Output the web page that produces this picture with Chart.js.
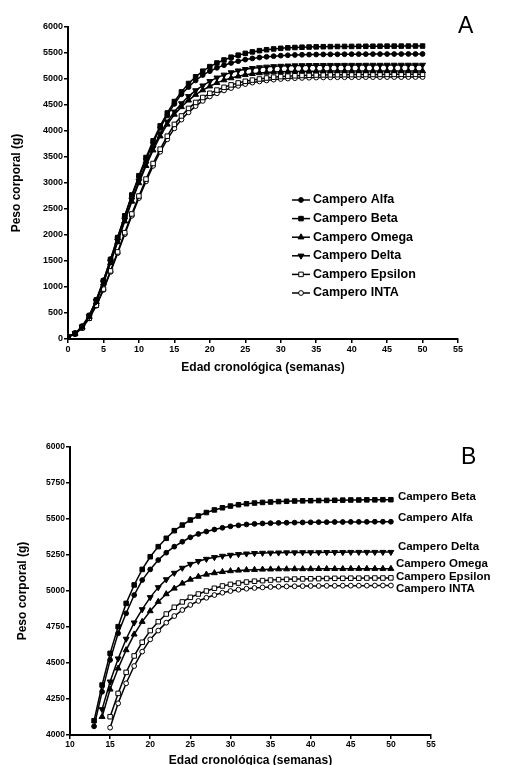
<!DOCTYPE html>
<html>
<head>
<meta charset="utf-8">
<script src="https://cdn.jsdelivr.net/npm/chart.js@4.4.0/dist/chart.umd.min.js"></script>
<style>
  html, body { margin: 0; padding: 0; background: #fff; overflow: hidden; }
  body { width: 509px; height: 765px; position: relative; font-family: "Liberation Sans", Arial, sans-serif; }
  .wrap { position: absolute; left: 0; width: 509px; }
  #wrapA { top: 0; height: 376px; }
  #wrapB { top: 380px; height: 388px; }
  .panel { position: absolute; font-size: 23px; color: #000; line-height: 1; }
</style>
</head>
<body>
<div class="wrap" id="wrapA"><canvas id="chartA" width="509" height="376"></canvas></div>
<div class="wrap" id="wrapB"><canvas id="chartB" width="509" height="388"></canvas></div>
<div class="panel" style="left:458px;top:14px">A</div>
<div class="panel" style="left:461px;top:445px">B</div>
<script>
// semanas
const weeks = [0,1,2,3,4,5,6,7,8,9,10,11,12,13,14,15,16,17,18,19,20,21,22,23,24,25,
  26,27,28,29,30,31,32,33,34,35,36,37,38,39,40,41,42,43,44,45,46,47,48,49,50];

// peso corporal (g) por semana
const alfa = [40,110,245,455,755,1130,1535,1950,2360,2750,3110,3450,3770,
  4060,4300,4521,4706,4845,4972,5076,5150,5215,5266,5308,5342,5373,
  5396,5413,5427,5439,5449,5456,5462,5466,5469,5471,5473,5474,5475,
  5476,5477,5478,5478,5479,5479,5480,5480,5480,5481,5481,5481];
const beta = [40,110,240,450,750,1120,1530,1950,2370,2770,3140,3490,3810,
  4099,4347,4567,4752,4914,5042,5150,5238,5308,5366,5419,5458,5493,
  5521,5545,5563,5578,5590,5599,5606,5611,5615,5618,5621,5623,5625,
  5626,5627,5628,5629,5630,5631,5632,5632,5633,5633,5634,5634];
const omega = [40,105,230,430,715,1070,1465,1865,2265,2645,3000,3330,3630,
  3900,4127,4317,4463,4590,4699,4787,4861,4926,4979,5018,5053,5080,
  5100,5115,5125,5133,5139,5143,5146,5148,5150,5151,5152,5152,5153,
  5153,5153,5154,5154,5154,5154,5155,5155,5155,5155,5155,5155];
const delta = [40,106,232,435,725,1085,1485,1890,2295,2680,3035,3370,3675,
  3950,4178,4370,4530,4667,4780,4872,4956,5025,5080,5125,5160,5187,
  5207,5222,5234,5243,5250,5255,5259,5262,5264,5265,5266,5267,5267,
  5268,5268,5268,5269,5269,5269,5270,5270,5270,5270,5270,5270];
const epsilon = [38,100,215,400,650,960,1310,1675,2045,2405,2750,3075,3375,
  3650,3900,4127,4289,4435,4549,4644,4725,4787,4840,4887,4924,4956,
  4979,5000,5019,5035,5046,5055,5062,5068,5072,5076,5079,5081,5083,
  5084,5085,5086,5087,5088,5088,5089,5089,5090,5090,5090,5091];
const inta = [38,98,212,395,640,945,1290,1650,2015,2370,2710,3030,3330,
  3600,3840,4051,4220,4359,4479,4579,4664,4725,4780,4826,4868,4903,
  4931,4953,4972,4988,5000,5009,5016,5021,5025,5028,5030,5032,5033,
  5034,5035,5035,5036,5036,5037,5037,5037,5037,5038,5038,5038];

const names = ['Campero Alfa','Campero Beta','Campero Omega','Campero Delta','Campero Epsilon','Campero INTA'];
const values = [alfa, beta, omega, delta, epsilon, inta];

const yTicksA = [0, 6000, 500];
const yTicksB = [4000, 6000, 250];

// estilo de cada serie (marcadores tipo Prism)
const styles = [
  { pointStyle: 'circle', fill: '#000', r: 2.4, rot: 0 },
  { pointStyle: 'rect', fill: '#000', r: 3.2, rot: 0 },
  { pointStyle: 'triangle', fill: '#000', r: 3.4, rot: 0 },
  { pointStyle: 'triangle', fill: '#000', r: 3.4, rot: 180 },
  { pointStyle: 'rect', fill: '#fff', r: 3.2, rot: 0 },
  { pointStyle: 'circle', fill: '#fff', r: 2.4, rot: 0 }
];

function makeDatasets(minY) {
  return values.map((arr, i) => ({
    label: names[i],
    data: arr.map((v, k) => ({ x: weeks[k], y: v >= minY ? v : null })),
    borderColor: '#000',
    borderWidth: 1.5,
    pointStyle: styles[i].pointStyle,
    pointRotation: styles[i].rot,
    pointRadius: styles[i].r,
    pointBackgroundColor: styles[i].fill,
    pointBorderColor: '#000',
    pointBorderWidth: 1,
    tension: 0,
    spanGaps: false
  }));
}

const FONT = '"Liberation Sans", Arial, sans-serif';

function axisOpts(min, max, step, tickSize, title, titlePad, fitSize, horizontal) {
  return {
    type: 'linear',
    min: min, max: max,
    border: { display: true, color: '#000', width: 2 },
    grid: { display: true, drawOnChartArea: false, drawTicks: true, tickLength: 4, color: '#000', lineWidth: 1.5 },
    ticks: {
      stepSize: step, color: '#000', padding: 1,
      font: { family: FONT, size: tickSize, weight: 'bold' },
      maxRotation: 0, autoSkip: false,
      callback: v => String(v)
    },
    title: {
      display: true, text: title, color: '#000', padding: titlePad,
      font: { family: FONT, size: 12, weight: 'bold' }
    },
    afterFit: s => { if (horizontal) s.height = fitSize; else s.width = fitSize; }
  };
}

const legendA = {
  id: 'legendA',
  afterDatasetsDraw(chart, args, opts) {
    if (!opts.show) return;
    const ctx = chart.ctx;
    ctx.save();
    chart.data.datasets.forEach((ds, i) => {
      const y = opts.y + i * opts.row;
      ctx.strokeStyle = '#000';
      ctx.lineWidth = 1.5;
      ctx.beginPath();
      ctx.moveTo(opts.x, y);
      ctx.lineTo(opts.x + 18, y);
      ctx.stroke();
      ctx.fillStyle = ds.pointBackgroundColor;
      ctx.lineWidth = 1;
      Chart.helpers.drawPoint(ctx, { pointStyle: ds.pointStyle, rotation: ds.pointRotation, radius: ds.pointRadius, borderWidth: 1 }, opts.x + 9, y);
      ctx.fillStyle = '#000';
      ctx.font = 'bold 12.5px ' + FONT;
      ctx.textBaseline = 'middle';
      ctx.textAlign = 'left';
      ctx.fillText(ds.label, opts.x + 21, y);
    });
    ctx.restore();
  }
};

const endLabels = {
  id: 'endLabels',
  afterDatasetsDraw(chart, args, opts) {
    if (!opts.show) return;
    const ctx = chart.ctx;
    ctx.save();
    ctx.fillStyle = '#000';
    ctx.font = 'bold 11.5px ' + FONT;
    ctx.textBaseline = 'middle';
    ctx.textAlign = 'left';
    chart.data.datasets.forEach((ds, i) => {
      const pts = chart.getDatasetMeta(i).data;
      const last = pts[pts.length - 1];
      ctx.fillText(ds.label, last.x + opts.dx[i], last.y + opts.dy[i]);
    });
    ctx.restore();
  }
};

Chart.register(legendA, endLabels);

new Chart(document.getElementById('chartA'), {
  type: 'line',
  data: { datasets: makeDatasets(-1) },
  options: {
    responsive: false, animation: false,
    layout: { padding: { left: 0, top: 27, right: 51, bottom: 0 } },
    plugins: {
      legend: { display: false }, tooltip: { enabled: false },
      legendA: { show: true, x: 292, y: 200, row: 18.6 },
      endLabels: { show: false }
    },
    scales: {
      x: axisOpts(0, 55, 5, 9, 'Edad cronológica (semanas)', { top: 0, bottom: 1 }, 37, true),
      y: axisOpts(yTicksA[0], yTicksA[1], yTicksA[2], 9, 'Peso corporal (g)', { top: 9, bottom: 0 }, 68, false)
    }
  }
});

new Chart(document.getElementById('chartB'), {
  type: 'line',
  data: { datasets: makeDatasets(yTicksB[0]) },
  options: {
    responsive: false, animation: false,
    layout: { padding: { left: 0, top: 67, right: 78, bottom: 0 } },
    plugins: {
      legend: { display: false }, tooltip: { enabled: false },
      legendA: { show: false },
      endLabels: { show: true, dx: [7, 7, 5, 7, 5, 5], dy: [-4, -3, -5, -5, -1, 3.5] }
    },
    scales: {
      x: axisOpts(10, 55, 5, 8.5, 'Edad cronológica (semanas)', { top: 0, bottom: 0 }, 33, true),
      y: axisOpts(yTicksB[0], yTicksB[1], yTicksB[2], 8.5, 'Peso corporal (g)', { top: 15, bottom: 0 }, 70, false)
    }
  }
});
</script>
</body>
</html>
